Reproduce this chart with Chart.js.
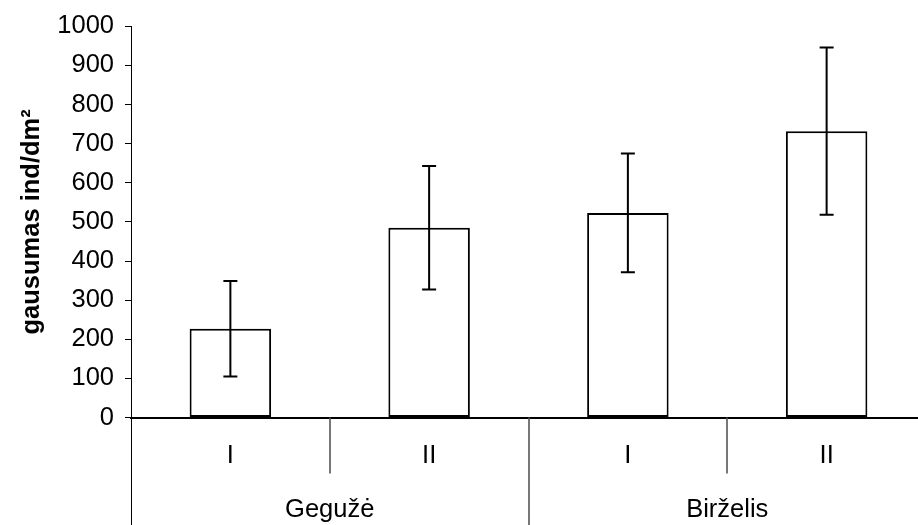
<!DOCTYPE html>
<html>
<head>
<meta charset="utf-8">
<script src="https://cdn.jsdelivr.net/npm/chart.js@4.4.1/dist/chart.umd.min.js"></script>
<style>
html,body{margin:0;padding:0;background:#fff;overflow:hidden;}
#wrap{width:926px;height:525px;}
</style>
</head>
<body>
<div id="wrap"><canvas id="c" width="926" height="525"></canvas></div>
<script>
const subLabels = ['I', 'II', 'I', 'II'];
const groupLabels = ['Gegužė', 'Birželis'];
const groupSizes = [2, 2];
const means = [227, 485, 523, 732];
const errors = [122, 158, 152, 214];
const yTicksMin = 0, yTicksMax = 1000, yStep = 100;
const yTitle = 'gausumas ind/dm²';

const FONT = "'Liberation Sans', Arial, sans-serif";

const errorBarPlugin = {
  id: 'errorBars',
  afterDatasetsDraw(chart) {
    const ctx = chart.ctx;
    const meta = chart.getDatasetMeta(0);
    const y = chart.scales.y;
    ctx.save();
    ctx.strokeStyle = '#000';
    ctx.lineWidth = 2;
    meta.data.forEach((bar, i) => {
      const x = bar.x;
      const yt = y.getPixelForValue(means[i] + errors[i]);
      const yb = y.getPixelForValue(means[i] - errors[i]);
      const cap = 7;
      ctx.beginPath();
      ctx.moveTo(x, yt); ctx.lineTo(x, yb);
      ctx.moveTo(x - cap, yt); ctx.lineTo(x + cap, yt);
      ctx.moveTo(x - cap, yb); ctx.lineTo(x + cap, yb);
      ctx.stroke();
    });
    ctx.restore();
  }
};

const groupAxisPlugin = {
  id: 'groupAxis',
  afterDraw(chart) {
    const ctx = chart.ctx;
    const xs = chart.scales.x;
    const area = chart.chartArea;
    const n = subLabels.length;
    const half = (xs.getPixelForValue(1) - xs.getPixelForValue(0)) / 2;
    const bottom = chart.height;
    ctx.save();
    let idx = 0;
    const groupStarts = [];
    groupSizes.forEach(s => { groupStarts.push(idx); idx += s; });
    for (let i = 0; i <= n; i++) {
      const px = Math.round((i < n ? xs.getPixelForValue(i) - half : xs.getPixelForValue(n - 1) + half));
      const isGroup = groupStarts.includes(i) || i === n;
      ctx.strokeStyle = isGroup && i === 0 ? '#000' : '#555';
      ctx.lineWidth = isGroup && i === 0 ? 1 : 1.6;
      ctx.beginPath();
      ctx.moveTo(i === 0 ? px + 0.5 : px, area.bottom);
      ctx.lineTo(i === 0 ? px + 0.5 : px, isGroup ? bottom : area.bottom + 56);
      ctx.stroke();
    }
    ctx.fillStyle = '#000';
    ctx.font = '25.5px ' + FONT;
    ctx.textAlign = 'center';
    ctx.textBaseline = 'middle';
    groupLabels.forEach((g, gi) => {
      const s = groupStarts[gi];
      const e = s + groupSizes[gi] - 1;
      const cx = (xs.getPixelForValue(s) + xs.getPixelForValue(e)) / 2;
      ctx.fillText(g, cx, area.bottom + 92);
    });
    ctx.restore();
  }
};

new Chart(document.getElementById('c'), {
  type: 'bar',
  data: {
    labels: subLabels,
    datasets: [{
      data: means,
      backgroundColor: '#fff',
      borderColor: '#000',
      borderWidth: 2,
      borderSkipped: false,
      barPercentage: 0.41,
      categoryPercentage: 1
    }]
  },
  options: {
    responsive: false,
    animation: false,
    devicePixelRatio: 1,
    layout: { padding: { top: 24, right: 0, left: 0, bottom: 0 } },
    plugins: { legend: { display: false }, tooltip: { enabled: false } },
    scales: {
      x: {
        grid: { display: false, drawTicks: false },
        border: { display: true, color: '#000', width: 2 },
        ticks: { color: '#000', font: { family: FONT, size: 25.5 }, padding: 23, maxRotation: 0 },
        afterFit(s) { s.height = 107.5; }
      },
      y: {
        min: yTicksMin, max: yTicksMax,
        grid: { drawOnChartArea: false, drawTicks: true, tickLength: 6, color: '#000' },
        border: { display: true, color: '#000', width: 1 },
        ticks: { stepSize: yStep, color: '#000', font: { family: FONT, size: 25.5 }, padding: 11,
                 callback: (v) => String(v) },
        title: { display: true, text: yTitle, color: '#000', font: { family: FONT, size: 25.5, weight: 'bold' }, padding: { top: 17, bottom: 0 } },
        afterFit(s) { s.width = 131; }
      }
    }
  },
  plugins: [errorBarPlugin, groupAxisPlugin]
});
</script>
</body>
</html>
